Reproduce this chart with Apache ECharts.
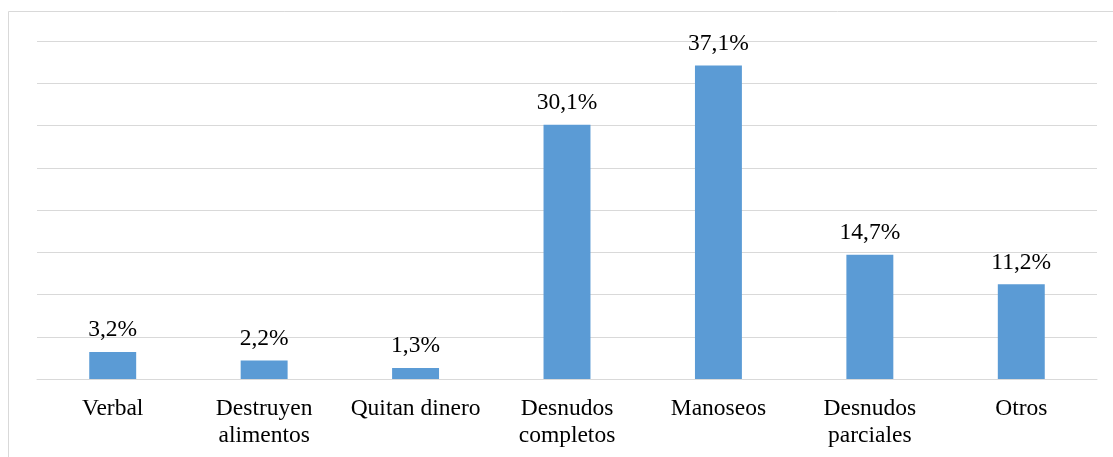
<!DOCTYPE html>
<html><head><meta charset="utf-8">
<script src="https://cdn.jsdelivr.net/npm/echarts@6/dist/echarts.min.js"></script>
<style>html,body{margin:0;padding:0;background:#fff}#c{width:1113px;height:457px}</style>
</head><body><div id="c"></div>
<script>
const categories = ['Verbal', 'Destruyen\nalimentos', 'Quitan dinero', 'Desnudos\ncompletos', 'Manoseos', 'Desnudos\nparciales', 'Otros'];
const values = [3.2, 2.2, 1.3, 30.1, 37.1, 14.7, 11.2];
const FONT = '"Liberation Serif", "Times New Roman", serif';
const chart = echarts.init(document.getElementById('c'));
chart.setOption({
  animation: false,
  backgroundColor: '#fff',
  graphic: [{type: 'rect', shape: {x: 8.5, y: 11.5, width: 1200, height: 600}, style: {fill: 'none', stroke: '#D9D9D9', lineWidth: 1}, z: -1}],
  grid: {left: 37, right: 16, top: 41, bottom: 78},
  xAxis: {
    type: 'category', data: categories,
    axisLine: {show: true, lineStyle: {color: '#D9D9D9', width: 1}},
    axisTick: {show: false},
    axisLabel: {color: '#000', fontFamily: FONT, fontSize: 23.5, lineHeight: 27, margin: 16, interval: 0}
  },
  yAxis: {
    type: 'value', min: 0, max: 40, interval: 5,
    axisLabel: {show: false}, axisLine: {show: false}, axisTick: {show: false},
    splitLine: {lineStyle: {color: '#D9D9D9', width: 1}}
  },
  series: [{
    type: 'bar', data: values, barWidth: '31%',
    itemStyle: {color: '#5B9BD5'},
    label: {show: true, position: 'top', distance: 10, color: '#000', fontFamily: FONT, fontSize: 23.5,
      formatter: p => p.value.toFixed(1).replace('.', ',') + '%'}
  }]
});
</script></body></html>
